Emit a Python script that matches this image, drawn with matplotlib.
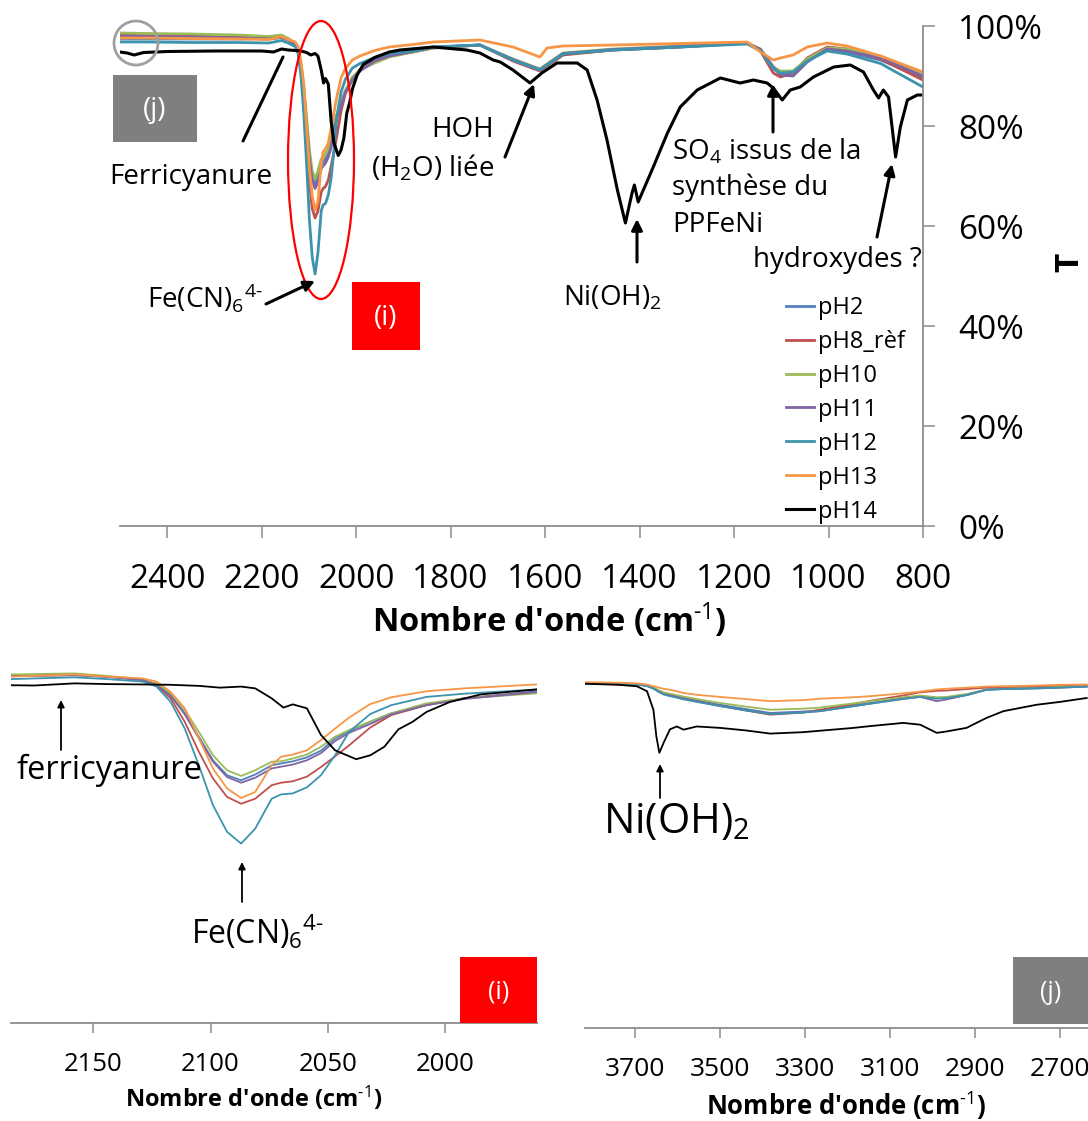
import matplotlib
matplotlib.use('Agg')
import matplotlib.pyplot as plt
from matplotlib.patches import Rectangle, Ellipse, FancyArrowPatch

plt.rcParams['font.family'] = ['Open Sans', 'DejaVu Sans']
plt.rcParams['mathtext.fontset'] = 'custom'
plt.rcParams['mathtext.rm'] = 'Open Sans'
plt.rcParams['mathtext.it'] = 'Open Sans:italic'
plt.rcParams['mathtext.bf'] = 'Open Sans:bold'

# ---------------- data ----------------
series_names = ['pH2', 'pH8_rèf', 'pH10', 'pH11', 'pH12', 'pH13', 'pH14']
series_colors = ['#4F81BD', '#C0504D', '#9BBB59', '#8064A2', '#3C93AD', '#F79646', '#000000']

# wavenumber grid (cm-1) shared by the pH2..pH13 spectra, 2500-800 cm-1
wn_col = [2500, 2440, 2350, 2250, 2185, 2158, 2144, 2129, 2123, 2117, 2111, 2105,
          2099, 2093, 2087, 2081, 2074, 2070, 2065, 2059, 2053, 2047, 2041, 2032,
          2023, 2008, 1992, 1961, 1930, 1880, 1837, 1738, 1668, 1611, 1596, 1562,
          1456, 1314, 1172, 1144, 1117, 1102, 1075, 1045, 1003, 961, 890, 800]

t_ph2 = [97.4, 97.4, 97.4, 97.4, 97.5, 97.9, 97.3, 96.5, 95.1, 92.1, 87.0, 80.4,
         73.8, 69.6, 68.2, 69.8, 72.4, 72.9, 73.5, 74.6, 76.5, 79.9, 82.0, 84.6,
         87.0, 89.3, 91.2, 93.2, 94.2, 95.0, 95.8, 96.2, 93.2, 91.2, 92.2, 94.4,
         95.2, 95.8, 96.6, 95.2, 91.6, 90.8, 90.8, 93.2, 95.2, 94.8, 93.2, 89.6]
t_ph8 = [98.2, 98.1, 98.0, 97.8, 97.5, 97.7, 97.3, 96.3, 94.9, 91.2, 84.6, 76.2,
         68.7, 63.5, 61.6, 63.0, 66.8, 67.5, 67.9, 69.2, 71.9, 74.9, 78.0, 83.0,
         86.5, 89.3, 91.2, 92.9, 94.0, 94.8, 95.6, 96.2, 93.0, 91.0, 92.0, 94.2,
         95.2, 95.8, 96.6, 95.0, 90.6, 89.8, 90.6, 93.6, 95.8, 95.4, 93.4, 89.2]
t_ph10 = [98.6, 98.5, 98.4, 98.2, 97.9, 98.2, 97.5, 96.6, 95.4, 92.6, 87.9, 81.8,
          75.2, 71.0, 69.4, 71.0, 73.4, 73.5, 74.3, 75.4, 77.6, 80.4, 82.3, 84.7,
          87.0, 89.8, 91.2, 92.6, 93.8, 94.8, 95.6, 96.2, 93.4, 91.4, 92.4, 94.6,
          95.4, 96.0, 96.6, 95.4, 91.8, 91.0, 91.0, 93.4, 95.6, 95.4, 94.0, 90.6]
t_ph11 = [98.0, 97.9, 97.8, 97.6, 97.4, 97.7, 97.2, 96.4, 94.9, 91.9, 86.7, 80.0,
          73.4, 69.1, 67.5, 68.9, 71.5, 72.0, 72.6, 73.8, 75.8, 79.2, 81.5, 84.0,
          86.7, 89.3, 91.0, 93.0, 94.0, 94.9, 95.7, 96.2, 93.3, 91.3, 92.3, 94.5,
          95.3, 95.9, 96.6, 95.3, 91.8, 90.2, 90.0, 92.8, 95.4, 95.0, 93.6, 90.0]
t_ph12 = [96.8, 96.8, 96.7, 96.7, 96.6, 97.1, 96.6, 95.9, 94.5, 90.2, 82.7, 72.4,
          61.2, 53.7, 50.4, 54.6, 63.0, 64.2, 64.5, 66.2, 69.6, 75.2, 81.8, 86.8,
          89.3, 91.6, 92.5, 93.7, 94.5, 95.0, 95.8, 96.2, 93.2, 91.2, 92.2, 94.4,
          95.2, 95.8, 96.4, 95.0, 91.4, 90.6, 90.8, 93.0, 95.0, 94.4, 92.5, 87.8]
t_ph13 = [97.6, 97.6, 97.5, 97.4, 97.3, 97.9, 97.3, 96.8, 95.9, 93.0, 88.4, 80.0,
          71.5, 65.9, 63.2, 64.9, 72.4, 74.8, 75.4, 76.6, 79.5, 82.7, 85.8, 89.6,
          91.5, 93.2, 94.0, 95.1, 95.8, 96.3, 96.8, 97.2, 95.8, 93.8, 95.6, 96.0,
          96.2, 96.5, 96.8, 94.8, 93.2, 93.6, 94.2, 95.8, 96.6, 96.0, 94.0, 90.8]

# pH14 spectrum, own grid
wn_ph14 = [2500, 2485, 2470, 2450, 2400, 2300, 2200, 2175, 2158, 2144, 2129, 2117,
           2105, 2096, 2087, 2081, 2074, 2069, 2065, 2059, 2053, 2047, 2038, 2032,
           2026, 2020, 2014, 2008, 1998, 1985, 1961, 1930, 1907, 1837, 1766, 1738,
           1710, 1695, 1668, 1632, 1607, 1575, 1532, 1511, 1490, 1469, 1447, 1430,
           1416, 1411, 1403, 1392, 1371, 1341, 1314, 1278, 1229, 1187, 1159, 1130,
           1117, 1098, 1081, 1060, 1032, 989, 954, 926, 905, 894, 884, 873,
           858, 848, 833, 812, 800]
t_ph14 = [94.8, 94.6, 94.2, 94.7, 94.9, 95.0, 95.0, 94.8, 95.4, 95.2, 95.1, 95.0,
          94.7, 94.2, 94.5, 94.0, 91.2, 88.6, 89.5, 88.4, 80.9, 76.6, 74.1, 75.2,
          77.6, 82.5, 84.6, 87.4, 90.2, 92.3, 93.7, 94.8, 95.2, 95.8, 95.2, 94.6,
          93.2, 92.8, 91.2, 88.6, 90.6, 92.6, 92.6, 91.2, 85.2, 77.2, 67.2, 60.6,
          66.6, 68.2, 64.8, 67.2, 71.8, 78.6, 83.8, 87.2, 89.6, 88.6, 89.2, 88.6,
          87.6, 85.2, 87.2, 87.8, 89.8, 91.8, 92.2, 90.8, 87.2, 85.6, 87.2, 85.8,
          73.8, 79.8, 85.2, 86.2, 86.2]

# high wavenumber region (inset j), 3818-2637 cm-1
wn_j = [3818, 3740, 3696, 3672, 3657, 3650, 3643, 3633, 3618, 3602, 3586, 3555,
        3500, 3440, 3382, 3304, 3265, 3186, 3147, 3069, 3029, 2990, 2967, 2920,
        2873, 2833, 2755, 2700, 2637]
tj_ph2 = [96.9, 96.8, 96.6, 96.2, 95.5, 95.0, 94.6, 94.0, 93.6, 93.2, 92.7, 92.0,
          90.8, 89.6, 88.5, 88.9, 89.2, 90.6, 91.3, 92.6, 93.2, 92.6, 92.8, 93.6,
          95.1, 95.3, 95.5, 95.7, 96.0]
tj_ph8 = [96.9, 96.8, 96.6, 96.2, 95.5, 95.0, 94.5, 93.9, 93.4, 93.0, 92.5, 91.8,
          90.5, 89.2, 88.0, 88.6, 89.4, 91.0, 91.9, 93.4, 94.3, 94.7, 94.8, 95.2,
          95.6, 95.7, 95.9, 96.1, 96.3]
tj_ph10 = [97.0, 96.9, 96.7, 96.3, 95.7, 95.2, 94.8, 94.3, 93.9, 93.5, 93.1, 92.4,
           91.3, 90.3, 89.4, 89.7, 90.0, 91.2, 91.8, 92.9, 93.4, 92.9, 93.0, 93.8,
           95.1, 95.3, 95.5, 95.8, 96.0]
tj_ph11 = [96.8, 96.7, 96.5, 96.1, 95.4, 94.9, 94.4, 93.8, 93.4, 93.0, 92.5, 91.8,
           90.5, 89.3, 88.3, 88.7, 89.0, 90.4, 91.1, 92.5, 93.0, 91.8, 92.3, 93.5,
           95.0, 95.2, 95.4, 95.6, 95.9]
tj_ph12 = [96.8, 96.7, 96.5, 96.0, 95.3, 94.8, 94.3, 93.7, 93.2, 92.8, 92.3, 91.6,
           90.4, 89.2, 88.2, 88.6, 89.0, 90.4, 91.1, 92.4, 93.0, 92.5, 92.7, 93.5,
           95.0, 95.2, 95.4, 95.6, 95.9]
tj_ph13 = [97.1, 97.0, 96.8, 96.5, 96.0, 95.8, 95.6, 95.3, 95.0, 94.6, 94.1, 93.6,
           93.0, 92.4, 91.8, 92.1, 92.5, 92.9, 93.2, 94.0, 94.5, 95.1, 95.3, 95.6,
           95.9, 96.0, 96.2, 96.4, 96.5]
tj_ph14 = [96.7, 96.4, 96.0, 94.6, 89.4, 81.9, 77.3, 80.1, 83.9, 84.7, 83.8, 84.7,
           84.3, 83.6, 82.7, 83.1, 83.5, 84.3, 84.8, 85.7, 85.2, 82.9, 83.3, 84.3,
           87.1, 89.0, 90.8, 91.6, 92.7]

main_xticks = [2400, 2200, 2000, 1800, 1600, 1400, 1200, 1000, 800]
main_yticks = [0, 20, 40, 60, 80, 100]
inset_i_xticks = [2150, 2100, 2050, 2000]
inset_j_xticks = [3700, 3500, 3300, 3100, 2900, 2700]

# ---------------- figure ----------------
W, H = 1088, 1121
fig = plt.figure(figsize=(W / 100, H / 100), dpi=100)


def fx(px):
    return px / W


def fy(py):
    return 1 - py / H


def box(l, t, r, b):
    return [fx(l), fy(b), (r - l) / W, (b - t) / H]


GRAY = '#8C8C8C'
XLABEL = "Nombre d'onde (cm$^{\\text{-}1}$)"
FECN = 'Fe(CN)$_6$$^{4\\text{-}}$'

spectra_main = [(wn_col, t_ph2), (wn_col, t_ph8), (wn_col, t_ph10), (wn_col, t_ph11),
                (wn_col, t_ph12), (wn_col, t_ph13), (wn_ph14, t_ph14)]
spectra_j = [tj_ph2, tj_ph8, tj_ph10, tj_ph11, tj_ph12, tj_ph13, tj_ph14]


def style_axis(ax, xticks, fs, length, pad):
    for s in ['left', 'top', 'right']:
        ax.spines[s].set_visible(False)
    ax.spines['bottom'].set_color(GRAY)
    ax.spines['bottom'].set_linewidth(1.3)
    ax.set_yticks([])
    ax.set_xticks(xticks)
    ax.set_xticklabels([str(v) for v in xticks])
    ax.tick_params(axis='x', direction='out', length=length, width=1.1,
                   color=GRAY, labelsize=fs, pad=pad)
    ax.patch.set_alpha(0)


# main chart
ax = fig.add_axes(box(120, 26, 923, 526))
for (wn, t), name, c in zip(spectra_main, series_names, series_colors):
    ax.plot(wn, t, color=c, lw=2.0 if c != '#000000' else 2.2, label=name,
            solid_joinstyle='round')
ax.set_xlim(2500, 800)
ax.set_ylim(0, 100)
style_axis(ax, main_xticks, 24, 8.5, 18)
ax.spines['right'].set_visible(True)
ax.spines['right'].set_color(GRAY)
ax.spines['right'].set_linewidth(1.3)
ax.yaxis.tick_right()
ax.set_yticks(main_yticks)
ax.set_yticklabels([f'{v}%' for v in main_yticks])
ax.tick_params(axis='y', direction='out', length=8.5, width=1.1, color=GRAY,
               labelsize=24, pad=17)
ax.legend(loc='upper left', bbox_to_anchor=(fx(786), fy(296)),
          bbox_transform=fig.transFigure, frameon=False, fontsize=17,
          handlelength=1.2, handletextpad=0.15, labelspacing=0.42,
          borderpad=0, borderaxespad=0)

fig.text(fx(549), fy(620), XLABEL, fontsize=23.5, fontweight='bold',
         ha='center', va='center')
fig.text(fx(1070), fy(262), 'T', fontsize=24, fontweight='bold', rotation=90,
         ha='center', va='center')

# inset (i)
ax_i = fig.add_axes(box(11, 667, 537, 1023))
for (wn, t), c in zip(spectra_main, series_colors):
    ax_i.plot(wn, t, color=c, lw=1.3, solid_joinstyle='round')
ax_i.set_xlim(2185, 1961)
ax_i.set_ylim(0, 100)
style_axis(ax_i, inset_i_xticks, 18.5, 7, 14)
fig.text(fx(254), fy(1099), XLABEL, fontsize=17, fontweight='bold',
         ha='center', va='center')

# inset (j)
ax_j = fig.add_axes(box(585, 672, 1088, 1028))
for t, c in zip(spectra_j, series_colors):
    ax_j.plot(wn_j, t, color=c, lw=1.3, solid_joinstyle='round')
ax_j.set_xlim(3818, 2634)
ax_j.set_ylim(0, 100)
style_axis(ax_j, inset_j_xticks, 19, 7, 14)
fig.text(fx(846), fy(1107), XLABEL, fontsize=18.5, fontweight='bold',
         ha='center', va='center')

# ---------------- annotations ----------------
def arrow(x0, y0, x1, y1, lw=2.0, ms=16, head=True):
    st = '-|>' if head else '-'
    a = FancyArrowPatch((fx(x0), fy(y0)), (fx(x1), fy(y1)), transform=fig.transFigure,
                        arrowstyle=st, mutation_scale=ms, color='black', lw=lw,
                        shrinkA=0, shrinkB=0)
    fig.add_artist(a)


def label_box(l, t, r, b, color, txt, fs):
    fig.add_artist(Rectangle((fx(l), fy(b)), (r - l) / W, (b - t) / H,
                             transform=fig.transFigure, facecolor=color,
                             edgecolor='none', zorder=5))
    fig.text(fx((l + r) / 2), fy((t + b) / 2 + 2), txt, color='white', fontsize=fs,
             ha='center', va='center', zorder=6)


T_FS = 20
# main chart annotations
fig.add_artist(Ellipse((fx(136), fy(43)), 44 / W, 44 / H, transform=fig.transFigure,
                       facecolor='none', edgecolor='#A0A0A0', lw=2))
label_box(113, 75, 197, 142, '#7F7F7F', '(j)', 20)
fig.text(fx(191), fy(177), 'Ferricyanure', fontsize=T_FS, ha='center', va='center')
arrow(243, 141, 283, 57, lw=2.2, head=False)

fig.add_artist(Ellipse((fx(321), fy(160)), 66 / W, 278 / H, transform=fig.transFigure,
                       facecolor='none', edgecolor='#FF0000', lw=1.6))
fig.text(fx(263), fy(298), FECN, fontsize=T_FS, ha='right', va='center')
arrow(266, 304, 315, 281, lw=2.2)
label_box(352, 282, 420, 350, '#FF0000', '(i)', 20)

fig.text(fx(494), fy(130), 'HOH', fontsize=T_FS, ha='right', va='center')
fig.text(fx(494), fy(168), '(H$_2$O) liée', fontsize=T_FS, ha='right', va='center')
arrow(505, 157, 534, 84, lw=2.2)

fig.text(fx(612), fy(298), 'Ni(OH)$_2$', fontsize=T_FS, ha='center', va='center')
arrow(637, 262, 637, 219, lw=2.2)

fig.text(fx(672), fy(152), 'SO$_4$ issus de la', fontsize=T_FS, ha='left', va='center')
fig.text(fx(672), fy(188), 'synthèse du', fontsize=T_FS, ha='left', va='center')
fig.text(fx(672), fy(225), 'PPFeNi', fontsize=T_FS, ha='left', va='center')
arrow(773, 132, 773, 84, lw=2.2)

fig.text(fx(922), fy(260), 'hydroxydes ?', fontsize=T_FS, ha='right', va='center')
arrow(877, 237, 892, 164, lw=2.2)

# inset (i) annotations
fig.text(fx(109), fy(770), 'ferricyanure', fontsize=23.5, ha='center', va='center')
arrow(61, 750, 61, 700, lw=1.3, ms=10)
fig.text(fx(258), fy(932), FECN, fontsize=23, ha='center', va='center')
arrow(242, 902, 242, 862, lw=1.3, ms=10)
label_box(460, 957, 537, 1023, '#FF0000', '(i)', 18)

# inset (j) annotations
fig.text(fx(676), fy(822), 'Ni(OH)$_2$', fontsize=30, ha='center', va='center')
arrow(660, 798, 660, 764, lw=1.3, ms=10)
label_box(1013, 957, 1088, 1024, '#7F7F7F', '(j)', 18)

fig.savefig('out.png', dpi=100)
